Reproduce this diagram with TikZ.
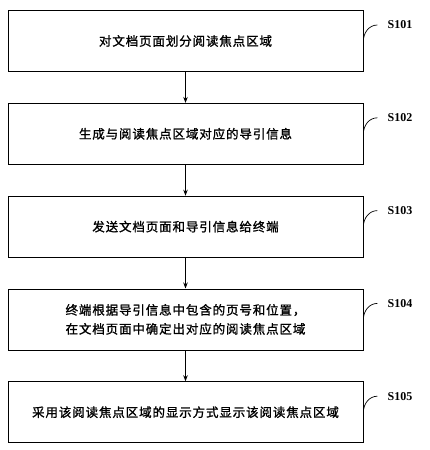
\documentclass[tikz,border=0pt]{standalone}
\usepackage{fontspec}
\setmainfont{Liberation Serif}
\newfontfamily\cjk{Noto Sans CJK SC}[LetterSpace=7,FakeBold=1.2]
\usepackage{tikz}
\usetikzlibrary{arrows.meta,positioning,calc}

\begin{document}
\begin{tikzpicture}[
    x=1pt,y=1pt,
    node distance=31pt,
    stepbox/.style={draw,line width=0.8pt,minimum width=355pt,minimum height=61pt,align=center,
      font=\cjk\fontsize{12.5}{19}\selectfont},
    slabel/.style={inner sep=0pt,font=\bfseries\fontsize{12}{14}\selectfont},
    arrow/.style={-{Stealth[length=6pt,width=4.5pt]},line width=0.8pt},
    hook/.style={line width=0.7pt}
  ]
    \useasboundingbox (0,0) rectangle (429,-450);

    \node[stepbox] (s1) at (185.5,-41) {对文档页面划分阅读焦点区域};
    \node[stepbox,below=of s1] (s2) {生成与阅读焦点区域对应的导引信息};
    \node[stepbox,below=of s2] (s3) {发送文档页面和导引信息给终端};
    \node[stepbox,below=of s3] (s4) {终端根据导引信息中包含的页号和位置，\\在文档页面中确定出对应的阅读焦点区域};
    \node[stepbox,below=of s4] (s5) {采用该阅读焦点区域的显示方式显示该阅读焦点区域};

    % step numbers
    \node[slabel,anchor=west] (l1) at ($(s1.east)+(24,16)$) {S101};
    \node[slabel,anchor=west] (l2) at ($(s2.east)+(24,16)$) {S102};
    \node[slabel,anchor=west] (l3) at ($(s3.east)+(24,16)$) {S103};
    \node[slabel,anchor=west] (l4) at ($(s4.east)+(24,16)$) {S104};
    \node[slabel,anchor=west] (l5) at ($(s5.east)+(24,16)$) {S105};

    \draw[hook] (s1.east) to[out=90,in=180] ([xshift=-10pt]l1.west);
    \draw[hook] (s2.east) to[out=90,in=180] ([xshift=-10pt]l2.west);
    \draw[hook] (s3.east) to[out=90,in=180] ([xshift=-10pt]l3.west);
    \draw[hook] (s4.east) to[out=90,in=180] ([xshift=-10pt]l4.west);
    \draw[hook] (s5.east) to[out=90,in=180] ([xshift=-10pt]l5.west);

    \draw[arrow] (s1) -- (s2);
    \draw[arrow] (s2) -- (s3);
    \draw[arrow] (s3) -- (s4);
    \draw[arrow] (s4) -- (s5);
\end{tikzpicture}
\end{document}
